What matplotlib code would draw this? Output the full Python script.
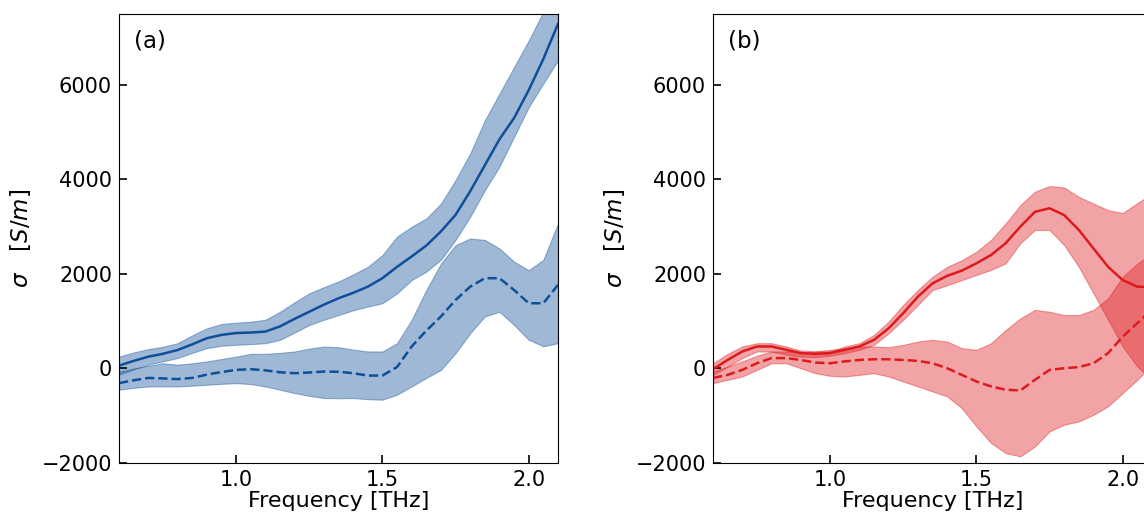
import matplotlib
matplotlib.use("Agg")
import matplotlib.pyplot as plt
import numpy as np

freq = [0.60, 0.65, 0.70, 0.75, 0.80, 0.85, 0.90, 0.95, 1.00, 1.05, 1.10,
        1.15, 1.20, 1.25, 1.30, 1.35, 1.40, 1.45, 1.50, 1.55, 1.60, 1.65,
        1.70, 1.75, 1.80, 1.85, 1.90, 1.95, 2.00, 2.05, 2.10]

# Panel (a)
a_real = [60, 160, 250, 310, 390, 510, 640, 710, 750, 760, 780, 890, 1050, 1200, 1350,
          1485, 1600, 1730, 1910, 2150, 2370, 2600, 2900, 3250, 3750, 4300, 4850, 5300,
          5890, 6550, 7290]
a_real_hi = [250, 340, 410, 460, 535, 700, 850, 940, 970, 990, 1030, 1200, 1400, 1590, 1720,
             1840, 1990, 2150, 2400, 2790, 3000, 3175, 3490, 3985, 4550, 5250, 5815, 6380,
             6940, 7550, 8200]
a_real_lo = [-130, -20, 80, 150, 220, 330, 430, 480, 500, 515, 535, 605, 760, 920, 1030,
             1130, 1230, 1310, 1380, 1590, 1870, 2050, 2300, 2720, 3210, 3770, 4270, 4900,
             5530, 6030, 6520]
a_imag = [-310, -250, -200, -210, -225, -200, -130, -75, -30, -15, -40, -80, -100, -85, -65,
          -70, -100, -150, -150, 30, 465, 800, 1100, 1450, 1730, 1910, 1910, 1660, 1380,
          1380, 1770]
a_imag_hi = [-65, 0, 55, 110, 80, 110, 150, 200, 250, 310, 310, 330, 360, 420, 465, 450,
             400, 360, 360, 535, 1030, 1660, 2220, 2610, 2750, 2720, 2540, 2260, 2080, 2300,
             3070]
a_imag_lo = [-450, -410, -380, -380, -380, -365, -345, -325, -310, -330, -380, -450, -520,
             -580, -625, -630, -625, -650, -660, -555, -380, -200, -30, 325, 745, 1100, 1200,
             920, 605, 470, 535]

# Panel (b)
b_real = [-15, 180, 360, 465, 465, 395, 325, 310, 325, 395, 465, 605, 850, 1170, 1520,
          1800, 1960, 2070, 2225, 2400, 2650, 3000, 3315, 3390, 3245, 2930, 2540, 2150,
          1870, 1730, 1720]
b_real_hi = [110, 310, 465, 535, 535, 465, 380, 360, 360, 465, 535, 710, 990, 1345, 1660,
             1940, 2150, 2290, 2470, 2720, 3070, 3455, 3740, 3860, 3830, 3630, 3490, 3350,
             3290, 3500, 3700]
b_real_lo = [-135, 40, 220, 360, 360, 290, 250, 240, 270, 325, 395, 500, 745, 1030, 1345,
             1660, 1760, 1870, 1980, 2085, 2225, 2650, 2930, 2930, 2610, 2150, 1590, 1030,
             465, 40, -240]
b_imag = [-200, -135, -30, 110, 220, 220, 180, 125, 110, 150, 180, 195, 195, 180, 160,
          110, 5, -135, -275, -380, -450, -465, -240, -30, 5, 30, 110, 325, 675, 960, 1250]
b_imag_hi = [-65, 40, 150, 270, 360, 360, 340, 360, 395, 430, 465, 465, 450, 500, 570,
             605, 570, 430, 395, 535, 815, 1060, 1240, 1200, 1130, 1130, 1240, 1485, 1940,
             2220, 2430]
b_imag_lo = [-310, -240, -170, -30, 110, 110, 5, -100, -155, -170, -135, -100, -170, -275,
             -380, -485, -590, -840, -1225, -1575, -1790, -1860, -1650, -1330, -1190, -1120,
             -980, -800, -520, -240, 75]

xticks = [1.0, 1.5, 2.0]
yticks = [-2000, 0, 2000, 4000, 6000]
panel_labels = ["(a)", "(b)"]

blue = "#0f4f9a"
red = "#de1a1e"

plt.rcParams['font.family'] = ['DejaVu Sans']
plt.rcParams['mathtext.fontset'] = 'dejavusans'

fig = plt.figure(figsize=(11.44, 5.16), dpi=100)
axes = [fig.add_axes([119/1144, 53/516, 439/1144, 449/516]),
        fig.add_axes([713/1144, 53/516, 439/1144, 449/516])]

series = [
    (a_real, a_real_lo, a_real_hi, a_imag, a_imag_lo, a_imag_hi, blue),
    (b_real, b_real_lo, b_real_hi, b_imag, b_imag_lo, b_imag_hi, red),
]

for ax, (re, rlo, rhi, im, ilo, ihi, col), lab in zip(axes, series, panel_labels):
    ax.fill_between(freq, rlo, rhi, color=col, alpha=0.4, linewidth=0.8)
    ax.fill_between(freq, ilo, ihi, color=col, alpha=0.4, linewidth=0.8)
    ax.plot(freq, re, color=col, lw=1.8)
    ax.plot(freq, im, color=col, lw=1.8, ls='--')
    ax.set_xlim(0.6, 2.1)
    ax.set_ylim(-2000, 7500)
    ax.set_xticks(xticks)
    ax.set_yticks(yticks)
    ax.tick_params(direction='in', length=6, width=1.2, labelsize=15, pad=5)
    ax.set_xlabel("Frequency [THz]", fontsize=16, labelpad=1)
    ax.set_ylabel(r"$\sigma\ \ \ [S/m]$", fontsize=16.5, labelpad=6)
    ax.text(0.035, 0.94, lab, transform=ax.transAxes, fontsize=16.5, va='center', ha='left')

fig.savefig("out.png", dpi=100)
